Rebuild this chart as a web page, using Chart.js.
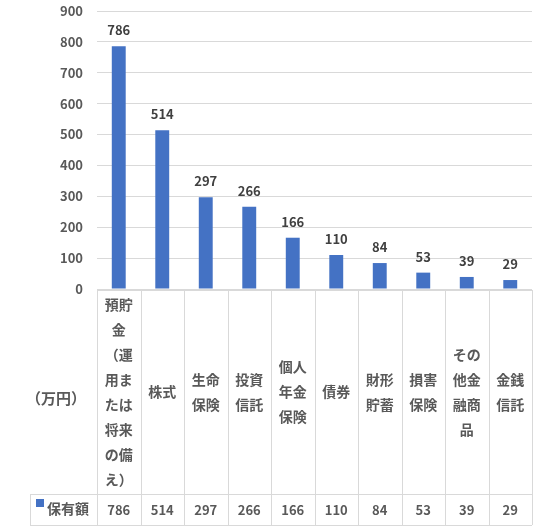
<!DOCTYPE html>
<html>
<head>
<meta charset="utf-8">
<script src="https://cdn.jsdelivr.net/npm/chart.js@4/dist/chart.umd.min.js"></script>
<style>
  html, body { margin: 0; padding: 0; background: #fff; }
  #wrap { width: 541px; height: 527px; }
</style>
</head>
<body>
<div id="wrap"><canvas id="chart"></canvas></div>
<script>
// 金融資産の保有額（万円）
const categories = ['預貯金（運用または将来の備え）', '株式', '生命保険', '投資信託', '個人年金保険', '債券', '財形貯蓄', '損害保険', 'その他金融商品', '金銭信託'];
// table cell line breaks, as drawn in the picture
const categoryLines = [
  ['預貯', '金', '（運', '用ま', 'たは', '将来', 'の備', 'え）'],
  ['株式'],
  ['生命', '保険'],
  ['投資', '信託'],
  ['個人', '年金', '保険'],
  ['債券'],
  ['財形', '貯蓄'],
  ['損害', '保険'],
  ['その', '他金', '融商', '品'],
  ['金銭', '信託']
];
const seriesName = '保有額';
const values = [786, 514, 297, 266, 166, 110, 84, 53, 39, 29];
const yTicks = [0, 100, 200, 300, 400, 500, 600, 700, 800, 900];
const unitLabel = '（万円）';

const FONT = '"Noto Sans CJK JP", "Noto Sans", sans-serif';
const TEXT = '#595959';
const LINE = '#d9d9d9';
const BLUE = '#4472c4';

const dataLabels = {
  id: 'dataLabels',
  afterDatasetsDraw(chart) {
    const ctx = chart.ctx;
    const meta = chart.getDatasetMeta(0);
    ctx.save();
    ctx.font = 'bold 13px ' + FONT;
    ctx.fillStyle = '#404040';
    ctx.textAlign = 'center';
    ctx.textBaseline = 'middle';
    meta.data.forEach((bar, i) => {
      ctx.fillText(String(values[i]), bar.x, bar.y - 16);
    });
    ctx.restore();
  }
};

const dataTable = {
  id: 'dataTable',
  afterDraw(chart) {
    const ctx = chart.ctx;
    const x = chart.scales.x;
    const area = chart.chartArea;
    const step = x.getPixelForValue(1) - x.getPixelForValue(0);
    const top = area.bottom + 1;
    const mid = top + 204;
    const bottom = mid + 31;
    const legendLeft = 30;
    ctx.save();
    ctx.strokeStyle = LINE;
    ctx.lineWidth = 1;
    ctx.beginPath();
    ctx.moveTo(area.left, top + 0.5); ctx.lineTo(area.right, top + 0.5);
    ctx.moveTo(legendLeft, mid + 0.5); ctx.lineTo(area.right, mid + 0.5);
    ctx.moveTo(legendLeft, bottom + 0.5); ctx.lineTo(area.right, bottom + 0.5);
    ctx.moveTo(legendLeft + 0.5, mid); ctx.lineTo(legendLeft + 0.5, bottom);
    for (let i = 0; i <= categories.length; i++) {
      const cx = Math.round(x.getPixelForValue(i) - step / 2) + 0.5;
      ctx.moveTo(cx, top); ctx.lineTo(cx, bottom);
    }
    ctx.stroke();

    ctx.fillStyle = TEXT;
    ctx.textAlign = 'center';
    ctx.textBaseline = 'middle';
    ctx.font = 'bold 14px ' + FONT;
    const lh = 25;
    const cy = top + 102;
    categoryLines.forEach((lines, i) => {
      const px = x.getPixelForValue(i);
      const y0 = cy - (lines.length - 1) * lh / 2;
      lines.forEach((t, j) => ctx.fillText(t, px, y0 + j * lh));
    });
    ctx.font = 'bold 13px ' + FONT;
    values.forEach((v, i) => {
      ctx.fillText(String(v), x.getPixelForValue(i), mid + 16);
    });
    // legend key + series name
    ctx.fillStyle = BLUE;
    ctx.fillRect(36, mid + 5, 8, 8);
    ctx.fillStyle = TEXT;
    ctx.textAlign = 'left';
    ctx.font = 'bold 14px ' + FONT;
    ctx.fillText(seriesName, 47, mid + 15);
    // unit label
    ctx.font = 'bold 15px ' + FONT;
    ctx.fillText(unitLabel, 26, cy + 6);
    ctx.restore();
  }
};

new Chart(document.getElementById('chart'), {
  type: 'bar',
  data: {
    labels: categories,
    datasets: [{
      label: seriesName,
      data: values,
      backgroundColor: BLUE,
      barPercentage: 0.32,
      categoryPercentage: 1
    }]
  },
  options: {
    responsive: true,
    maintainAspectRatio: false,
    animation: false,
    devicePixelRatio: 1,
    layout: { padding: { top: 11, right: 9, bottom: 238, left: 0 } },
    plugins: {
      legend: { display: false },
      tooltip: { enabled: false }
    },
    scales: {
      x: { display: false },
      y: {
        min: 0,
        max: 900,
        afterFit(scale) {
          scale.width = 97;
          scale.paddingTop = 0;
          scale.paddingBottom = 0;
        },
        afterBuildTicks(scale) { scale.ticks = yTicks.map(v => ({ value: v })); },
        border: { display: false },
        grid: { color: LINE, drawTicks: false },
        ticks: {
          padding: 14,
          color: TEXT,
          font: { family: FONT, size: 13, weight: 'bold' }
        }
      }
    }
  },
  plugins: [dataLabels, dataTable]
});
</script>
</body>
</html>
